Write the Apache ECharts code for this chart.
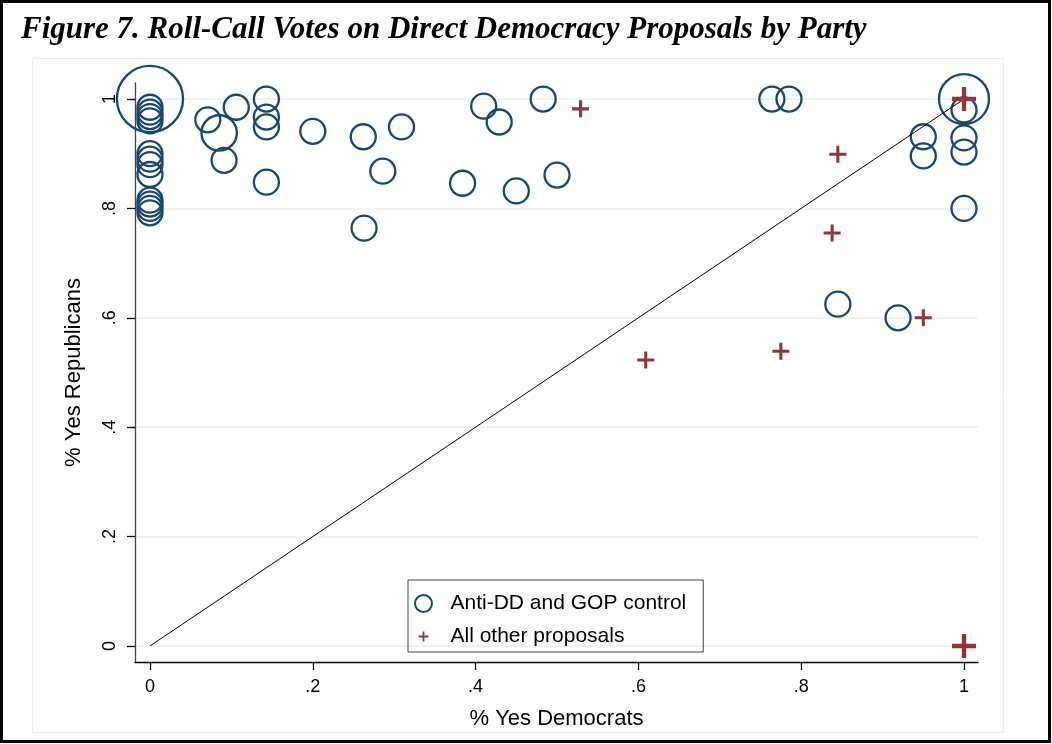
<!DOCTYPE html>
<html>
<head>
<meta charset="utf-8">
<script src="https://cdn.jsdelivr.net/npm/echarts@6/dist/echarts.min.js"></script>
<style>
	html, body { margin: 0; padding: 0; background: #fff; }
	#main { width: 1052px; height: 744px; }
</style>
</head>
<body>
<div id="main"></div>
<script>
// Anti-DD and GOP control : % yes dems, % yes reps, weight (votes)
let antiDem = [0, 0, 0, 0, 0, 0, 0, 0, 0, 0, 0, 0, 0,
	0.071, 0.085, 0.106, 0.091, 0.143, 0.143, 0.143, 0.143, 0.2,
	0.262, 0.263, 0.286, 0.309, 0.384, 0.41, 0.429, 0.45, 0.483, 0.5,
	0.764, 0.785, 0.845, 0.919, 0.95, 0.95, 1, 1, 1, 1, 1];
let antiRep = [1, 0.985, 0.976, 0.968, 0.96, 0.9, 0.89, 0.88, 0.862, 0.815, 0.808, 0.8, 0.792,
	0.962, 0.938, 0.985, 0.888, 1, 0.967, 0.949, 0.848, 0.941,
	0.931, 0.764, 0.868, 0.949, 0.846, 0.987, 0.958, 0.832, 1, 0.861,
	1, 1, 0.625, 0.6, 0.931, 0.896, 1, 0.98, 0.929, 0.903, 0.8];
let antiWeight = [7, 1, 1, 1, 1, 1, 1, 1, 1, 1, 1, 1, 1,
	1, 2, 1, 1, 1, 1, 1, 1, 1,
	1, 1, 1, 1, 1, 1, 1, 1, 1, 1,
	1, 1, 1, 1, 1, 1, 4, 1, 1, 1, 1];

// All other proposals
let otherDem = [0.529, 0.609, 0.775, 0.838, 0.845, 0.95, 1, 1];
let otherRep = [0.982, 0.523, 0.539, 0.755, 0.899, 0.6, 1, 0];
let otherWeight = [1, 1, 1, 1, 1, 1, 2, 2];

// 45 degree reference line
let diagLine = [[0, 0], [1, 1]];

let tickVals = [0, 0.2, 0.4, 0.6, 0.8, 1];
let tickLabels = ['0', '.2', '.4', '.6', '.8', '1'];

let navy = '#1a476f';
let maroon = '#90353b';
let plusPath = 'path://M8.2,0h3.6v8.2h8.2v3.6h-8.2v8.2h-3.6v-8.2h-8.2v-3.6h8.2z';
// same cross with a tiny dot in each corner so the legend icon stays small
let plusLegend = 'path://M0,0h0.01v0.01h-0.01z M33.99,33.99h0.01v0.01h-0.01z M15.2,7h3.6v8.2h8.2v3.6h-8.2v8.2h-3.6v-8.2h-8.2v-3.6h8.2z';

function tickText(v) {
	let i = tickVals.findIndex(t => Math.abs(t - v) < 1e-6);
	return i < 0 ? '' : tickLabels[i];
}

let antiData = antiDem.map((d, i) => [d, antiRep[i], antiWeight[i]]);
let otherData = otherDem.map((d, i) => [d, otherRep[i], otherWeight[i]]);

let font = 'Liberation Sans';
let myChart = echarts.init(document.getElementById('main'));

let option = {
	animation: false,
	backgroundColor: '#fff',
	title: {
		text: 'Figure 7. Roll-Call Votes on Direct Democracy Proposals by Party',
		left: 21,
		top: 14,
		padding: 0,
		textStyle: {
			fontFamily: 'Liberation Serif',
			fontStyle: 'italic',
			fontWeight: 'bold',
			fontSize: 31,
			color: '#000'
		}
	},
	graphic: [
		{
			type: 'rect',
			shape: { x: 1.5, y: 1.5, width: 1048, height: 740 },
			style: { fill: 'none', stroke: '#000', lineWidth: 3 },
			silent: true
		},
		{
			type: 'rect',
			shape: { x: 32.5, y: 58.5, width: 971, height: 674 },
			style: { fill: 'none', stroke: '#e6eeee', lineWidth: 1 },
			silent: true,
			z: -1
		}
	],
	grid: {
		left: 135,
		right: 74,
		top: 83,
		bottom: 82
	},
	xAxis: {
		type: 'value',
		min: -0.0184,
		max: 1.0172,
		name: '% Yes Democrats',
		nameLocation: 'middle',
		nameGap: 46,
		nameTextStyle: { fontFamily: font, fontSize: 22, color: '#000' },
		axisLine: { onZero: false, lineStyle: { color: '#000', width: 1.3 } },
		axisTick: { show: true, length: 8, customValues: tickVals, lineStyle: { color: '#000', width: 1.3 } },
		axisLabel: { customValues: tickVals, formatter: tickText, margin: 16, fontFamily: font, fontSize: 18, color: '#000' },
		splitLine: { show: false }
	},
	yAxis: {
		type: 'value',
		min: -0.0293,
		max: 1.0293,
		name: '% Yes Republicans',
		nameLocation: 'middle',
		nameRotate: 90,
		nameGap: 50,
		nameTextStyle: { fontFamily: font, fontSize: 22, color: '#000' },
		axisLine: { onZero: false, lineStyle: { color: '#444', width: 1.3 } },
		axisTick: { show: true, length: 8, customValues: tickVals, lineStyle: { color: '#000', width: 1.3 } },
		axisLabel: { customValues: tickVals, formatter: tickText, rotate: 90, margin: 16, fontFamily: font, fontSize: 18, color: '#000' },
		splitLine: { show: true, lineStyle: { color: '#eaf2f3', width: 1.6 } }
	},
	legend: {
		orient: 'vertical',
		left: 408,
		top: 580,
		padding: [13, 17, 5, 6],
		itemGap: 12,
		itemWidth: 26,
		itemHeight: 17,
		borderColor: '#444',
		borderWidth: 1,
		textStyle: { fontFamily: font, fontSize: 21, color: '#000', padding: [0, 0, 0, 9] },
		data: [
			{ name: 'Anti-DD and GOP control', icon: 'circle' },
			{ name: 'All other proposals', icon: plusLegend }
		]
	},
	series: [
		{
			name: 'Anti-DD and GOP control',
			type: 'scatter',
			symbol: 'circle',
			symbolSize: val => 25 * Math.sqrt(val[2]),
			itemStyle: { color: 'rgba(0,0,0,0)', borderColor: navy, borderWidth: 2.3, opacity: 1 },
			data: antiData,
			z: 2
		},
		{
			name: 'diagonal',
			type: 'line',
			data: diagLine,
			showSymbol: false,
			silent: true,
			lineStyle: { color: '#000', width: 1 },
			z: 3
		},
		{
			name: 'All other proposals',
			type: 'scatter',
			symbol: plusPath,
			symbolSize: val => 17 * Math.sqrt(val[2]),
			itemStyle: { color: maroon, opacity: 1 },
			data: otherData,
			z: 4
		}
	]
};

myChart.setOption(option);
</script>
</body>
</html>
